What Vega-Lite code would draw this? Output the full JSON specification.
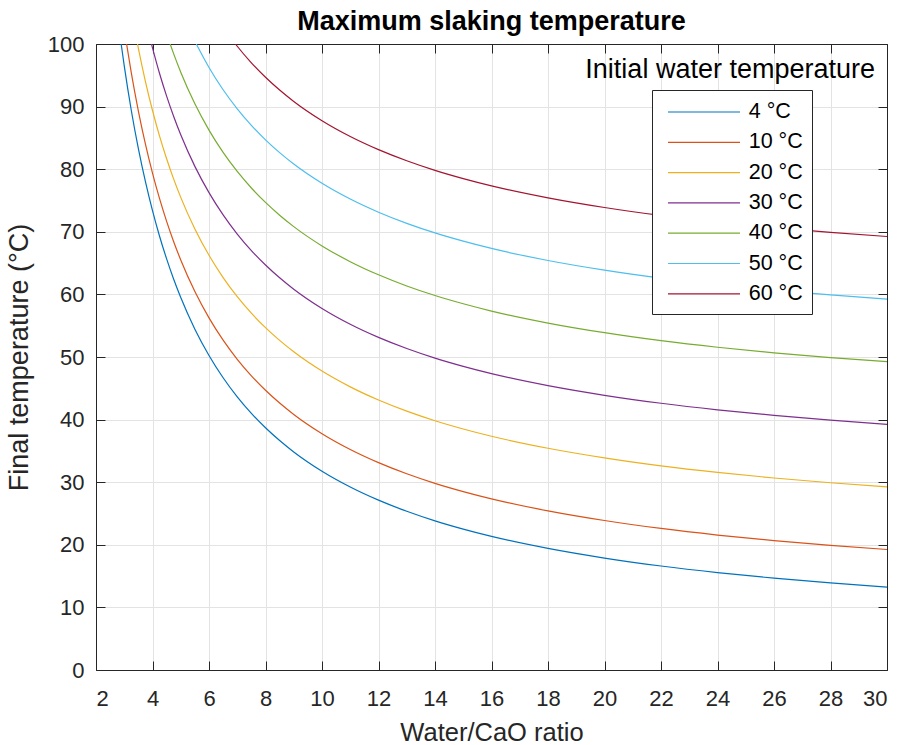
{
  "$schema": "https://vega.github.io/schema/vega-lite/v6.json",
  "autosize": {"type": "none"},
  "padding": {"left": 96, "top": 44, "right": 14, "bottom": 75},
  "width": 791,
  "height": 626,
  "background": "white",
  "title": {
    "text": "Maximum slaking temperature",
    "font": "Liberation Sans",
    "fontSize": 27,
    "fontWeight": "bold",
    "color": "#000000",
    "anchor": "middle",
    "offset": -3
  },
  "config": {
    "view": {"stroke": null},
    "axis": {
      "domainColor": "#262626",
      "tickColor": "#262626",
      "labelColor": "#262626",
      "titleColor": "#262626",
      "gridColor": "#e3e3e3",
      "labelFont": "Liberation Sans",
      "titleFont": "Liberation Sans",
      "titleFontWeight": "normal",
      "labelFontSize": 22,
      "titleFontSize": 25.5
    }
  },
  "data": {
    "values": [
      {"s": "4 °C", "r": 2.891, "t": 100}, {"s": "4 °C", "r": 3, "t": 96.5}, {"s": "4 °C", "r": 3.25, "t": 89.38}, {"s": "4 °C", "r": 3.5, "t": 83.29}, {"s": "4 °C", "r": 3.75, "t": 78.0}, {"s": "4 °C", "r": 4, "t": 73.38}, {"s": "4 °C", "r": 4.25, "t": 69.29}, {"s": "4 °C", "r": 4.5, "t": 65.67}, {"s": "4 °C", "r": 4.75, "t": 62.42}, {"s": "4 °C", "r": 5, "t": 59.5}, {"s": "4 °C", "r": 5.5, "t": 54.45}, {"s": "4 °C", "r": 6, "t": 50.25}, {"s": "4 °C", "r": 6.5, "t": 46.69}, {"s": "4 °C", "r": 7, "t": 43.64}, {"s": "4 °C", "r": 7.5, "t": 41.0}, {"s": "4 °C", "r": 8, "t": 38.69}, {"s": "4 °C", "r": 8.5, "t": 36.65}, {"s": "4 °C", "r": 9, "t": 34.83}, {"s": "4 °C", "r": 10, "t": 31.75}, {"s": "4 °C", "r": 11, "t": 29.23}, {"s": "4 °C", "r": 12, "t": 27.13}, {"s": "4 °C", "r": 13, "t": 25.35}, {"s": "4 °C", "r": 14, "t": 23.82}, {"s": "4 °C", "r": 15, "t": 22.5}, {"s": "4 °C", "r": 16, "t": 21.34}, {"s": "4 °C", "r": 18, "t": 19.42}, {"s": "4 °C", "r": 20, "t": 17.88}, {"s": "4 °C", "r": 22, "t": 16.61}, {"s": "4 °C", "r": 24, "t": 15.56}, {"s": "4 °C", "r": 26, "t": 14.67}, {"s": "4 °C", "r": 28, "t": 13.91}, {"s": "4 °C", "r": 30, "t": 13.25},
      {"s": "10 °C", "r": 3.083, "t": 100}, {"s": "10 °C", "r": 3.25, "t": 95.38}, {"s": "10 °C", "r": 3.5, "t": 89.29}, {"s": "10 °C", "r": 3.75, "t": 84.0}, {"s": "10 °C", "r": 4, "t": 79.38}, {"s": "10 °C", "r": 4.25, "t": 75.29}, {"s": "10 °C", "r": 4.5, "t": 71.67}, {"s": "10 °C", "r": 4.75, "t": 68.42}, {"s": "10 °C", "r": 5, "t": 65.5}, {"s": "10 °C", "r": 5.5, "t": 60.45}, {"s": "10 °C", "r": 6, "t": 56.25}, {"s": "10 °C", "r": 6.5, "t": 52.69}, {"s": "10 °C", "r": 7, "t": 49.64}, {"s": "10 °C", "r": 7.5, "t": 47.0}, {"s": "10 °C", "r": 8, "t": 44.69}, {"s": "10 °C", "r": 8.5, "t": 42.65}, {"s": "10 °C", "r": 9, "t": 40.83}, {"s": "10 °C", "r": 10, "t": 37.75}, {"s": "10 °C", "r": 11, "t": 35.23}, {"s": "10 °C", "r": 12, "t": 33.13}, {"s": "10 °C", "r": 13, "t": 31.35}, {"s": "10 °C", "r": 14, "t": 29.82}, {"s": "10 °C", "r": 15, "t": 28.5}, {"s": "10 °C", "r": 16, "t": 27.34}, {"s": "10 °C", "r": 18, "t": 25.42}, {"s": "10 °C", "r": 20, "t": 23.88}, {"s": "10 °C", "r": 22, "t": 22.61}, {"s": "10 °C", "r": 24, "t": 21.56}, {"s": "10 °C", "r": 26, "t": 20.67}, {"s": "10 °C", "r": 28, "t": 19.91}, {"s": "10 °C", "r": 30, "t": 19.25},
      {"s": "20 °C", "r": 3.469, "t": 100}, {"s": "20 °C", "r": 3.5, "t": 99.29}, {"s": "20 °C", "r": 3.75, "t": 94.0}, {"s": "20 °C", "r": 4, "t": 89.38}, {"s": "20 °C", "r": 4.25, "t": 85.29}, {"s": "20 °C", "r": 4.5, "t": 81.67}, {"s": "20 °C", "r": 4.75, "t": 78.42}, {"s": "20 °C", "r": 5, "t": 75.5}, {"s": "20 °C", "r": 5.5, "t": 70.45}, {"s": "20 °C", "r": 6, "t": 66.25}, {"s": "20 °C", "r": 6.5, "t": 62.69}, {"s": "20 °C", "r": 7, "t": 59.64}, {"s": "20 °C", "r": 7.5, "t": 57.0}, {"s": "20 °C", "r": 8, "t": 54.69}, {"s": "20 °C", "r": 8.5, "t": 52.65}, {"s": "20 °C", "r": 9, "t": 50.83}, {"s": "20 °C", "r": 10, "t": 47.75}, {"s": "20 °C", "r": 11, "t": 45.23}, {"s": "20 °C", "r": 12, "t": 43.13}, {"s": "20 °C", "r": 13, "t": 41.35}, {"s": "20 °C", "r": 14, "t": 39.82}, {"s": "20 °C", "r": 15, "t": 38.5}, {"s": "20 °C", "r": 16, "t": 37.34}, {"s": "20 °C", "r": 18, "t": 35.42}, {"s": "20 °C", "r": 20, "t": 33.88}, {"s": "20 °C", "r": 22, "t": 32.61}, {"s": "20 °C", "r": 24, "t": 31.56}, {"s": "20 °C", "r": 26, "t": 30.67}, {"s": "20 °C", "r": 28, "t": 29.91}, {"s": "20 °C", "r": 30, "t": 29.25},
      {"s": "30 °C", "r": 3.964, "t": 100}, {"s": "30 °C", "r": 4, "t": 99.38}, {"s": "30 °C", "r": 4.25, "t": 95.29}, {"s": "30 °C", "r": 4.5, "t": 91.67}, {"s": "30 °C", "r": 4.75, "t": 88.42}, {"s": "30 °C", "r": 5, "t": 85.5}, {"s": "30 °C", "r": 5.5, "t": 80.45}, {"s": "30 °C", "r": 6, "t": 76.25}, {"s": "30 °C", "r": 6.5, "t": 72.69}, {"s": "30 °C", "r": 7, "t": 69.64}, {"s": "30 °C", "r": 7.5, "t": 67.0}, {"s": "30 °C", "r": 8, "t": 64.69}, {"s": "30 °C", "r": 8.5, "t": 62.65}, {"s": "30 °C", "r": 9, "t": 60.83}, {"s": "30 °C", "r": 10, "t": 57.75}, {"s": "30 °C", "r": 11, "t": 55.23}, {"s": "30 °C", "r": 12, "t": 53.13}, {"s": "30 °C", "r": 13, "t": 51.35}, {"s": "30 °C", "r": 14, "t": 49.82}, {"s": "30 °C", "r": 15, "t": 48.5}, {"s": "30 °C", "r": 16, "t": 47.34}, {"s": "30 °C", "r": 18, "t": 45.42}, {"s": "30 °C", "r": 20, "t": 43.88}, {"s": "30 °C", "r": 22, "t": 42.61}, {"s": "30 °C", "r": 24, "t": 41.56}, {"s": "30 °C", "r": 26, "t": 40.67}, {"s": "30 °C", "r": 28, "t": 39.91}, {"s": "30 °C", "r": 30, "t": 39.25},
      {"s": "40 °C", "r": 4.625, "t": 100}, {"s": "40 °C", "r": 4.75, "t": 98.42}, {"s": "40 °C", "r": 5, "t": 95.5}, {"s": "40 °C", "r": 5.5, "t": 90.45}, {"s": "40 °C", "r": 6, "t": 86.25}, {"s": "40 °C", "r": 6.5, "t": 82.69}, {"s": "40 °C", "r": 7, "t": 79.64}, {"s": "40 °C", "r": 7.5, "t": 77.0}, {"s": "40 °C", "r": 8, "t": 74.69}, {"s": "40 °C", "r": 8.5, "t": 72.65}, {"s": "40 °C", "r": 9, "t": 70.83}, {"s": "40 °C", "r": 10, "t": 67.75}, {"s": "40 °C", "r": 11, "t": 65.23}, {"s": "40 °C", "r": 12, "t": 63.13}, {"s": "40 °C", "r": 13, "t": 61.35}, {"s": "40 °C", "r": 14, "t": 59.82}, {"s": "40 °C", "r": 15, "t": 58.5}, {"s": "40 °C", "r": 16, "t": 57.34}, {"s": "40 °C", "r": 18, "t": 55.42}, {"s": "40 °C", "r": 20, "t": 53.88}, {"s": "40 °C", "r": 22, "t": 52.61}, {"s": "40 °C", "r": 24, "t": 51.56}, {"s": "40 °C", "r": 26, "t": 50.67}, {"s": "40 °C", "r": 28, "t": 49.91}, {"s": "40 °C", "r": 30, "t": 49.25},
      {"s": "50 °C", "r": 5.55, "t": 100}, {"s": "50 °C", "r": 6, "t": 96.25}, {"s": "50 °C", "r": 6.5, "t": 92.69}, {"s": "50 °C", "r": 7, "t": 89.64}, {"s": "50 °C", "r": 7.5, "t": 87.0}, {"s": "50 °C", "r": 8, "t": 84.69}, {"s": "50 °C", "r": 8.5, "t": 82.65}, {"s": "50 °C", "r": 9, "t": 80.83}, {"s": "50 °C", "r": 10, "t": 77.75}, {"s": "50 °C", "r": 11, "t": 75.23}, {"s": "50 °C", "r": 12, "t": 73.13}, {"s": "50 °C", "r": 13, "t": 71.35}, {"s": "50 °C", "r": 14, "t": 69.82}, {"s": "50 °C", "r": 15, "t": 68.5}, {"s": "50 °C", "r": 16, "t": 67.34}, {"s": "50 °C", "r": 18, "t": 65.42}, {"s": "50 °C", "r": 20, "t": 63.88}, {"s": "50 °C", "r": 22, "t": 62.61}, {"s": "50 °C", "r": 24, "t": 61.56}, {"s": "50 °C", "r": 26, "t": 60.67}, {"s": "50 °C", "r": 28, "t": 59.91}, {"s": "50 °C", "r": 30, "t": 59.25},
      {"s": "60 °C", "r": 6.938, "t": 100}, {"s": "60 °C", "r": 7, "t": 99.64}, {"s": "60 °C", "r": 7.5, "t": 97.0}, {"s": "60 °C", "r": 8, "t": 94.69}, {"s": "60 °C", "r": 8.5, "t": 92.65}, {"s": "60 °C", "r": 9, "t": 90.83}, {"s": "60 °C", "r": 10, "t": 87.75}, {"s": "60 °C", "r": 11, "t": 85.23}, {"s": "60 °C", "r": 12, "t": 83.13}, {"s": "60 °C", "r": 13, "t": 81.35}, {"s": "60 °C", "r": 14, "t": 79.82}, {"s": "60 °C", "r": 15, "t": 78.5}, {"s": "60 °C", "r": 16, "t": 77.34}, {"s": "60 °C", "r": 18, "t": 75.42}, {"s": "60 °C", "r": 20, "t": 73.88}, {"s": "60 °C", "r": 22, "t": 72.61}, {"s": "60 °C", "r": 24, "t": 71.56}, {"s": "60 °C", "r": 26, "t": 70.67}, {"s": "60 °C", "r": 28, "t": 69.91}, {"s": "60 °C", "r": 30, "t": 69.25}
    ]
  },
  "layer": [
    {
      "mark": {"type": "line", "interpolate": "monotone", "strokeWidth": 1.2, "clip": true},
      "encoding": {
        "x": {
          "field": "r", "type": "quantitative",
          "scale": {"domain": [2, 30], "nice": false, "zero": false},
          "axis": {
            "title": "Water/CaO ratio",
            "values": [2, 4, 6, 8, 10, 12, 14, 16, 18, 20, 22, 24, 26, 28, 30],
            "tickSize": -9, "labelPadding": 27, "titlePadding": 11, "grid": true
          }
        },
        "y": {
          "field": "t", "type": "quantitative",
          "scale": {"domain": [0, 100], "nice": false, "zero": false},
          "axis": {
            "title": "Final temperature (°C)",
            "titleFontSize": 27,
            "values": [0, 10, 20, 30, 40, 50, 60, 70, 80, 90, 100],
            "tickSize": -9, "labelPadding": 21, "titlePadding": 14, "grid": true
          }
        },
        "color": {
          "field": "s", "type": "nominal",
          "scale": {
            "domain": ["4 °C", "10 °C", "20 °C", "30 °C", "40 °C", "50 °C", "60 °C"],
            "range": ["#0072BD", "#D95319", "#EDB120", "#7E2F8E", "#77AC30", "#4DBEEE", "#A2142F"]
          },
          "legend": {
            "title": null,
            "orient": "none",
            "legendX": 556,
            "legendY": 46,
            "symbolType": "M-3,0H3",
            "symbolSize": 576,
            "symbolStrokeWidth": 1.2,
            "symbolOffset": 30,
            "labelOffset": 31.7,
            "labelFont": "Liberation Sans",
            "labelFontSize": 21.5,
            "labelColor": "#000000",
            "rowPadding": 6.3,
            "padding": 9,
            "strokeColor": "#262626",
            "fillColor": "#ffffff",
            "cornerRadius": 0
          }
        }
      }
    },
    {
      "data": {"values": [{"label": "Initial water temperature"}]},
      "mark": {"type": "text", "align": "right", "baseline": "alphabetic", "font": "Liberation Sans", "fontSize": 27, "color": "#000000"},
      "encoding": {
        "x": {
          "datum": 29.575, "type": "quantitative",
          "axis": {"orient": "top", "labels": false, "title": null, "grid": false, "tickSize": -9,
                   "values": [2, 4, 6, 8, 10, 12, 14, 16, 18, 20, 22, 24, 26, 28, 30]}
        },
        "y": {
          "datum": 94.5, "type": "quantitative",
          "axis": {"orient": "right", "labels": false, "title": null, "grid": false, "tickSize": -9,
                   "values": [0, 10, 20, 30, 40, 50, 60, 70, 80, 90, 100]}
        },
        "text": {"field": "label"}
      }
    }
  ],
  "resolve": {"axis": {"x": "independent", "y": "independent"}}
}
